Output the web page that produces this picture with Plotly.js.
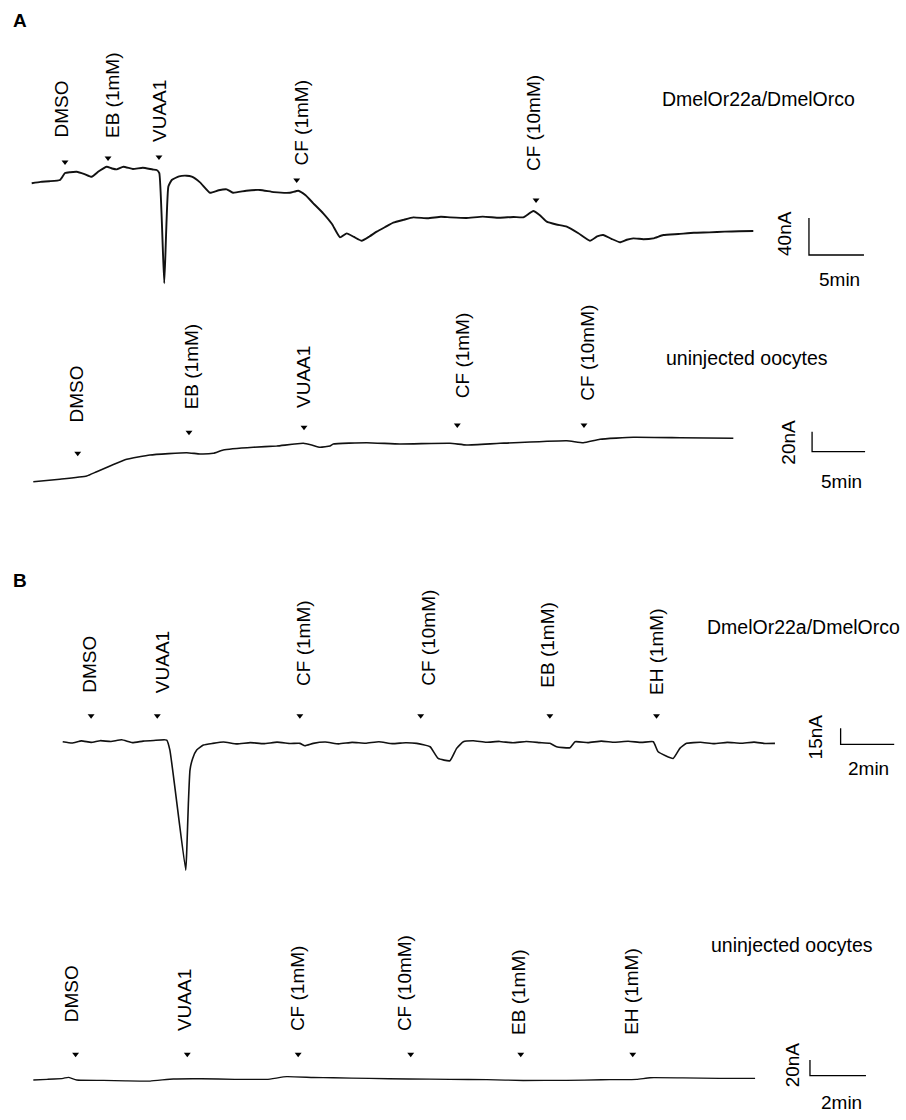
<!DOCTYPE html>
<html><head><meta charset="utf-8">
<script src="https://cdn.plot.ly/plotly-3.0.1.min.js"></script>
<style>html,body{margin:0;padding:0;background:#fff}#chart{width:906px;height:1120px}</style>
</head><body><div id="chart"></div>
<script>
// ---------- Panel A, DmelOr22a/DmelOrco (time in min, current in nA) ----------
const a1Time = [0,0.8,1.6,2.57,3.03,3.5,4.09,4.8,5.45,6.1,6.82,7.3,7.73,8.33,9.2,10.1,11.0,11.36,11.6,12.05,12.42,12.73,13.4,14.09,14.55,15.3,16.21,17.0,17.73,18.3,19.5,20.75,22.0,23.48,24.24,24.9,25.6,26.5,27.3,28.03,28.64,29.3,30.0,30.7,31.36,32.1,32.87,33.8,34.69,36.0,37.2,38.03,39.5,41.0,42.5,43.8,44.69,45.6,46.2,46.82,47.7,48.64,49.7,50.75,51.4,51.96,52.7,53.48,54.1,54.69,55.6,56.51,57.42,58.8,60.2,61.6,63.0,64.3,65.6];
const a1Current = [0,1.5,2.2,3.6,11.1,12.0,12.5,10.0,7.1,13.0,17.9,16.0,15.1,17.9,15.5,16.8,14.9,14.4,11.1,-108.1,-3.7,3.6,7.5,8.2,7.1,1.0,-10.2,-7.5,-6.5,-10.2,-8.0,-7.2,-9.5,-10.2,-8.0,-13.0,-21.6,-32.4,-44.0,-58.4,-54.1,-58.0,-62.1,-57.5,-52.3,-47.5,-42.6,-39.5,-36.8,-37.8,-36.2,-36.8,-37.5,-36.0,-37.2,-36.4,-36.8,-29.9,-34.5,-41.5,-44.5,-46.9,-54.0,-62.1,-57.5,-55.9,-60.0,-63.8,-61.0,-59.5,-60.4,-59.5,-55.9,-54.8,-53.5,-53.0,-52.2,-51.9,-51.6];
const a1StimNames = ['DMSO','EB (1mM)','VUAA1','CF (1mM)','CF (10mM)'];
const a1StimTime  = [3.03,6.94,11.57,24.09,45.85];
const a1StimLevel = [23.0,27.4,28.4,3.6,-18.1];
const a1LabelTime = [2.75,7.3,11.66,24.57,45.57];
const a1LabelLevel = [47.9,46.8,42.5,17.6,11.1];

// ---------- Panel A, uninjected oocytes ----------
const a2Time = [0,2.5,5.04,5.98,7.4,8.81,11.01,14.47,15.73,16.98,17.92,20.75,22.96,25.47,26.26,27.05,27.99,28.3,31.45,34.59,39.31,40.89,44.03,50.32,51.89,53.46,56.6,61.0,66.04];
const a2Current = [0,2.5,5.7,10,16.5,22.4,26.7,29,27.7,28.4,31.7,34.4,35.7,38.4,36.7,34.4,35.7,37.7,39,37.7,38.4,36.7,38.4,41,39,42.4,44.4,44.0,43.4];
const a2StimNames = ['DMSO','EB (1mM)','VUAA1','CF (1mM)','CF (10mM)'];
const a2StimTime  = [4.19,14.69,25.54,40.0,51.95];
const a2StimLevel = [28.4,49.4,54.4,56.7,56.7];
const a2LabelTime = [4.03,14.94,25.44,40.51,52.21];
const a2LabelLevel = [56.7,70,71.7,81.7,78.7];

// ---------- Panel B, DmelOr22a/DmelOrco ----------
const b1Time = [0,0.35,0.7,1.06,1.4,1.8,2.2,2.6,3.0,3.4,3.88,4.0,4.59,4.63,4.69,4.75,4.85,5.0,5.25,5.6,6.0,6.5,7.0,7.5,8.0,8.5,8.85,9.04,9.35,9.8,10.3,10.8,11.3,11.8,12.3,12.8,13.21,13.71,14.01,14.45,14.7,14.95,15.32,15.8,16.3,16.8,17.3,17.8,18.18,18.43,18.93,19.12,19.6,20.1,20.6,21.1,21.6,22.04,22.22,22.78,23.03,23.28,23.8,24.3,24.8,25.3,25.8,26.2,26.58];
const b1Current = [0,-1.2,0.8,-0.6,1.0,0.2,1.8,-0.8,0.6,1.2,1.6,-7.8,-120.3,-101.7,-57.7,-26.5,-15.6,-7.8,-3.1,-1.5,-0.2,-2.0,-0.8,-1.8,-0.4,-1.6,-1.5,-3.7,-1.5,-0.3,-2.0,-0.6,-1.4,0.0,-1.8,-0.9,-1.5,-4.7,-15.6,-17.8,-6.2,0,0.9,-0.5,0.3,-1.0,0.2,-0.8,-1.5,-4.7,-5.6,0,-0.8,0.6,-0.5,0.4,-0.6,0,-9.4,-15.6,-6.2,-1.5,-0.5,-1.8,-0.6,-1.4,-0.4,-1.6,-1.5];
const b1StimNames = ['DMSO','VUAA1','CF (1mM)','CF (10mM)','EB (1mM)','EH (1mM)'];
const b1StimTime  = [1.06,3.53,8.85,13.36,18.18,22.16];
const b1StimLevel = [24.4,24.4,24.4,24.4,24.4,24.4];
const b1LabelTime = [0.99,3.75,8.98,13.62,18.1,22.16];
const b1LabelLevel = [43.8,43.8,50.3,50.3,48.5,41.9];

// ---------- Panel B, uninjected oocytes ----------
const b2Time = [0,0.5,1.07,1.25,1.55,2.5,3.3,4.17,5.0,6.0,7.2,8.34,9.05,10.0,10.71,12.0,13.4,14.88,16.2,17.5,19.05,20.3,21.55,22.03,23.2,24.5,25.78];
const b2Current = [0,0.9,2.2,3.4,0,-0.4,-1.0,-1.3,1.3,1.6,0.9,0.9,4.2,3.2,2.9,2.0,1.3,0.9,0.4,-0.6,-0.4,0.3,0.9,2.9,2.6,2.2,2.2];
const b2StimNames = ['DMSO','VUAA1','CF (1mM)','CF (10mM)','EB (1mM)','EH (1mM)'];
const b2StimTime  = [1.51,5.5,9.46,13.48,17.41,21.41];
const b2StimLevel = [32.7,32.7,32.7,32.7,32.7,32.7];
const b2LabelTime = [1.37,5.42,9.44,13.28,17.32,21.37];
const b2LabelLevel = [71.3,59.9,59.9,59.9,55.2,55.2];

// ---------- scale bars ----------
const scaleTimeLen = [5,5,2,2];          // min
const scaleCurrentLen = [40,20,15,20];  // nA
const scaleTimeText = ['5min','5min','2min','2min'];
const scaleCurrentText = ['40nA','20nA','15nA','20nA'];
const constructText = ['DmelOr22a/DmelOrco','uninjected oocytes','DmelOr22a/DmelOrco','uninjected oocytes'];

// ---------- layout geometry (not data) ----------
const panels = [
  {t:a1Time,c:a1Current,sn:a1StimNames,st:a1StimTime,sl:a1StimLevel,lt:a1LabelTime,ll:a1LabelLevel,
   xr:[-2.882,79.482], yr:[-126.16,133.3], dom:[0.73214,0.94643], lw:1.9,
   sbT:70.66, sbI:-77.5, cLab:[68.48,-53.7], tLab:[73.48,-104.5], conPos:[66.11,91.1]},
  {t:a2Time,c:a2Current,sn:a2StimNames,st:a2StimTime,sl:a2StimLevel,lt:a2LabelTime,ll:a2LabelLevel,
   xr:[-3.1415,82.33], yr:[-18.3,131.7], dom:[0.55357,0.6875], lw:1.6,
   sbT:73.47, sbI:30, cLab:[71.29,40.0], tLab:[76.29,0], conPos:[67.37,123.7]},
  {t:b1Time,c:b1Current,sn:b1StimNames,st:b1StimTime,sl:b1StimLevel,lt:b1LabelTime,ll:b1LabelLevel,
   xr:[-2.34,31.47], yr:[-138.9,132.8], dom:[0.20536,0.46429], lw:1.6,
   sbT:29.03, sbI:-2.4, cLab:[28.1,4.7], tLab:[30.07,-24.9], conPos:[27.66,107.8]},
  {t:b2Time,c:b2Current,sn:b2StimNames,st:b2StimTime,sl:b2StimLevel,lt:b2LabelTime,ll:b2LabelLevel,
   xr:[-1.19,31.17], yr:[-38.2,191.1], dom:[0.00893,0.16964], lw:1.3,
   sbT:27.74, sbI:5.5, cLab:[27.11,19.1], tLab:[28.87,-28.9], conPos:[27.11,172]}
];

const FONT = 'Liberation Sans, Arial, Helvetica, sans-serif';
const data = [];
const annotations = [];
const layout = {
  width:906, height:1120, margin:{l:0,r:0,t:0,b:0},
  paper_bgcolor:'#ffffff', plot_bgcolor:'rgba(0,0,0,0)', showlegend:false,
  font:{family:FONT,color:'#000'}
};

panels.forEach((p,k)=>{
  const sx = k===0?'':String(k+1);
  const xa = 'x'+sx, ya = 'y'+sx;
  layout['xaxis'+sx] = {domain:[0,1], range:p.xr, visible:false, fixedrange:true, anchor:ya, showgrid:false, zeroline:false};
  layout['yaxis'+sx] = {domain:p.dom, range:p.yr, visible:false, fixedrange:true, anchor:xa, showgrid:false, zeroline:false};
  // recording trace
  data.push({type:'scatter', mode:'lines', x:p.t, y:p.c, xaxis:xa, yaxis:ya,
    line:{color:'#111', width:p.lw, shape:'spline', smoothing:0.4}, hoverinfo:'skip'});
  // stimulus arrowheads
  data.push({type:'scatter', mode:'markers', x:p.st, y:p.sl, xaxis:xa, yaxis:ya, cliponaxis:false,
    marker:{symbol:'triangle-down', size:6, color:'#000'}, hoverinfo:'skip'});
  // scale bar
  data.push({type:'scatter', mode:'lines', xaxis:xa, yaxis:ya, cliponaxis:false,
    x:[p.sbT, p.sbT, p.sbT+scaleTimeLen[k]],
    y:[p.sbI+scaleCurrentLen[k], p.sbI, p.sbI],
    line:{color:'#000', width:1.3}, hoverinfo:'skip'});
  // stimulus labels
  p.sn.forEach((name,i)=>{
    annotations.push({xref:xa, yref:ya, x:p.lt[i], y:p.ll[i], text:name, showarrow:false,
      textangle:-90, xanchor:'center', yanchor:'bottom', font:{family:FONT,size:19,color:'#000'}});
  });
  annotations.push({xref:xa, yref:ya, x:p.conPos[0], y:p.conPos[1], text:constructText[k], showarrow:false,
    xanchor:'center', yanchor:'middle', font:{family:FONT,size:19.5,color:'#000'}});
  annotations.push({xref:xa, yref:ya, x:p.cLab[0], y:p.cLab[1], text:scaleCurrentText[k], showarrow:false,
    textangle:-90, xanchor:'center', yanchor:'middle', font:{family:FONT,size:19,color:'#000'}});
  annotations.push({xref:xa, yref:ya, x:p.tLab[0], y:p.tLab[1], text:scaleTimeText[k], showarrow:false,
    xanchor:'center', yanchor:'middle', font:{family:FONT,size:19,color:'#000'}});
});

annotations.push({xref:'paper', yref:'paper', x:0.012, y:1-20/1120, text:'<b>A</b>', showarrow:false,
  xanchor:'left', yanchor:'middle', font:{family:FONT,size:19,color:'#000'}});
annotations.push({xref:'paper', yref:'paper', x:0.012, y:1-580/1120, text:'<b>B</b>', showarrow:false,
  xanchor:'left', yanchor:'middle', font:{family:FONT,size:19,color:'#000'}});
layout.annotations = annotations;

Plotly.newPlot('chart', data, layout, {staticPlot:true, displayModeBar:false});
</script>
</body></html>
